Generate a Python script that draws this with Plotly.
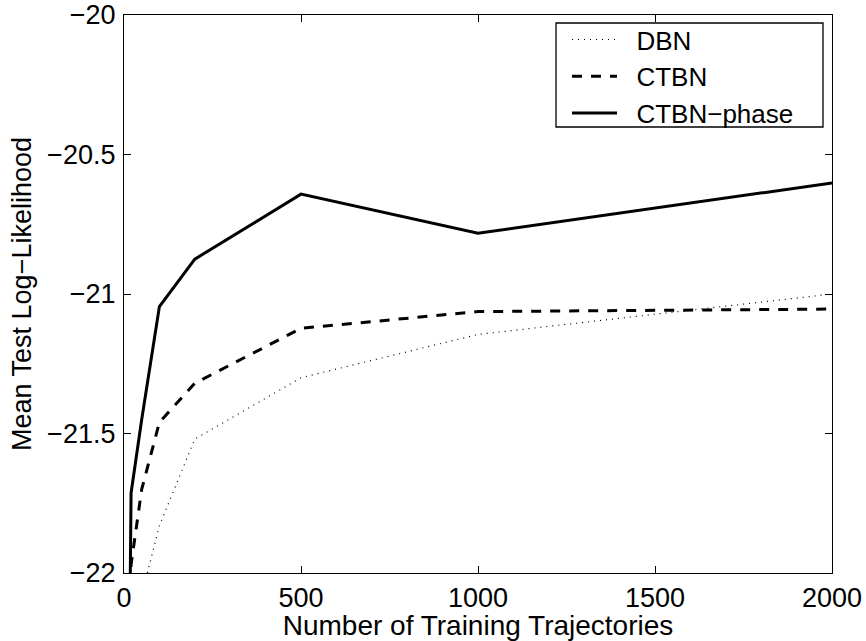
import plotly.graph_objects as go

trajectories = [10, 20, 50, 100, 200, 500, 1000, 2000]
dbn = [-23.2, -22.6, -22.08, -21.83, -21.52, -21.30, -21.145, -21.0]
ctbn = [-23.0, -21.97, -21.70, -21.46, -21.32, -21.123, -21.063, -21.054]
ctbn_phase = [-23.0, -21.713, -21.45, -21.045, -20.875, -20.642, -20.782, -20.602]
series_names = ["DBN", "CTBN", "CTBN\u2212phase"]

x_ticks = [0, 500, 1000, 1500, 2000]
y_ticks = [-22, -21.5, -21, -20.5, -20]

font_family = "Liberation Sans, Arial, Helvetica, sans-serif"
FS = 27
PAD = "\u00a0\u00a0"

fig = go.Figure()
fig.add_trace(go.Scatter(x=trajectories, y=dbn, mode="lines", name=PAD + series_names[0],
                         line=dict(color="black", width=1.2, dash="1px,5px")))
fig.add_trace(go.Scatter(x=trajectories, y=ctbn, mode="lines", name=PAD + series_names[1],
                         line=dict(color="black", width=3, dash="10px,9px")))
fig.add_trace(go.Scatter(x=trajectories, y=ctbn_phase, mode="lines", name=PAD + series_names[2],
                         line=dict(color="black", width=3)))

axis_common = dict(showline=True, linecolor="black", linewidth=1.3, mirror="ticks",
                   ticks="inside", ticklen=7, tickcolor="black", tickwidth=1,
                   showgrid=False, zeroline=False, automargin=False,
                   tickfont=dict(size=FS, color="black", family=font_family))

fig.update_layout(
    width=866, height=641,
    margin=dict(l=124, r=34, t=15, b=68, autoexpand=False),
    paper_bgcolor="white", plot_bgcolor="white",
    font=dict(family=font_family, color="black", size=FS),
    xaxis=dict(range=[0, 2000], tickvals=x_ticks, ticklabelstandoff=0, **axis_common,
               title=dict(text="Number of Training Trajectories", standoff=4,
                          font=dict(size=28))),
    yaxis=dict(range=[-22, -20], tickvals=y_ticks, ticklabelstandoff=2, **axis_common,
               title=dict(text="Mean Test Log\u2212Likelihood", standoff=7,
                          font=dict(size=FS))),
    legend=dict(x=0.6257, y=0.998, xanchor="left", yanchor="top",
                bgcolor="rgba(0,0,0,0)", borderwidth=0,
                font=dict(size=26), itemwidth=45, tracegroupgap=0),
    showlegend=True,
    shapes=[dict(type="rect", xref="paper", yref="paper",
                 x0=0.6102, x1=0.9873, y0=0.7993, y1=0.9857,
                 line=dict(color="black", width=1.3), fillcolor="rgba(0,0,0,0)",
                 layer="above")],
)

fig.write_html("out.html", config={"displayModeBar": False},
               post_script="document.body.style.margin='0';document.body.style.overflow='hidden';")
